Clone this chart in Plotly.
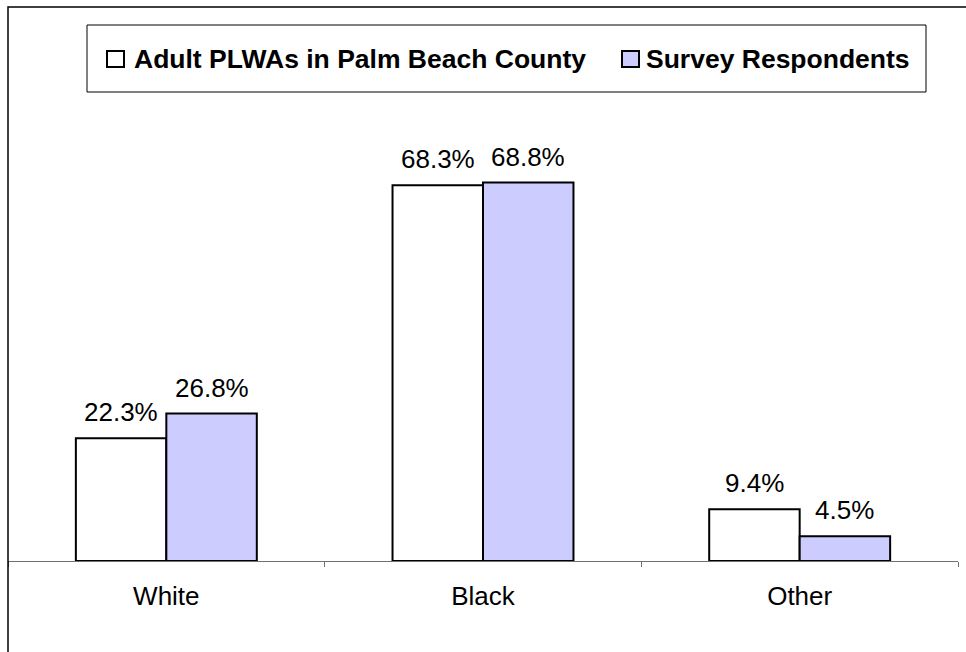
import plotly.graph_objects as go

# Race / ethnicity breakdown, percent of adults
categories = ["White", "Black", "Other"]
county_pct = [22.3, 68.3, 9.4]
survey_pct = [26.8, 68.8, 4.5]
series_names = ["Adult PLWAs in Palm Beach County", "Survey Respondents"]
series_colors = ["#FFFFFF", "#CCCCFF"]

W, H = 966, 652
M_L, M_R, M_T, M_B = 8, 8, 121, 91
PLOT_W = W - M_L - M_R
PLOT_H = H - M_T - M_B
FONT = "Arial, Liberation Sans, sans-serif"


def px_x(x):
    return (x - M_L) / PLOT_W


def px_y(y):
    return (H - M_B - y) / PLOT_H


fig = go.Figure()
for name, vals, color in zip(series_names, [county_pct, survey_pct], series_colors):
    fig.add_trace(go.Bar(
        x=categories, y=vals, name=name,
        marker=dict(color=color, line=dict(color="black", width=2)),
        showlegend=False,
    ))

# value labels above each bar, placed on a hidden numeric overlay axis
bar_w = 0.2857
annotations = []
for k, vals in enumerate([county_pct, survey_pct]):
    for i, v in enumerate(vals):
        xc = i + (k - 0.5) * bar_w
        annotations.append(dict(
            x=xc, y=v, xref="x2", yref="y", text=f"{v:.1f}%",
            showarrow=False, yanchor="bottom", xanchor="center", yshift=9,
            font=dict(family=FONT, size=26, color="black"),
        ))

# legend drawn as a framed box with swatches
legend_text = [(132, series_names[0]), (644, series_names[1])]
for x0, txt in legend_text:
    annotations.append(dict(
        x=px_x(x0), y=px_y(59), xref="paper", yref="paper", text=f"<b>{txt}</b>",
        showarrow=False, xanchor="left", yanchor="middle",
        font=dict(family=FONT, size=26.5, color="black"),
    ))

shapes = [
    # outer frame
    dict(type="rect", xref="paper", yref="paper",
         x0=px_x(8), x1=px_x(990), y0=px_y(680), y1=px_y(7),
         line=dict(color="black", width=1.5), fillcolor="rgba(0,0,0,0)"),
    # legend frame
    dict(type="rect", xref="paper", yref="paper",
         x0=px_x(87), x1=px_x(926), y0=px_y(92), y1=px_y(25),
         line=dict(color="black", width=1), fillcolor="white"),
]
for (sx, color) in [(107, series_colors[0]), (622, series_colors[1])]:
    shapes.append(dict(type="rect", xref="paper", yref="paper",
                       x0=px_x(sx), x1=px_x(sx + 17), y0=px_y(67), y1=px_y(51),
                       line=dict(color="black", width=2), fillcolor=color))

fig.update_layout(
    width=W, height=H,
    margin=dict(l=M_L, r=M_R, t=M_T, b=M_B),
    paper_bgcolor="white", plot_bgcolor="white",
    barmode="group", bargap=0.4286, bargroupgap=0,
    font=dict(family=FONT, size=26, color="black"),
    xaxis=dict(
        type="category", tickson="boundaries", ticks="outside", ticklen=5,
        tickcolor="#707070", showline=True, linecolor="#707070", linewidth=1,
        showgrid=False, tickfont=dict(family=FONT, size=26, color="black"),
        ticklabelstandoff=12,
        range=[-0.5, 2.5], fixedrange=True,
    ),
    xaxis2=dict(overlaying="x", range=[-0.5, 2.5], visible=False),
    yaxis=dict(range=[0, 80], visible=False, showgrid=False, zeroline=False),
    annotations=annotations,
    shapes=shapes,
)

fig.write_html("out.html")
